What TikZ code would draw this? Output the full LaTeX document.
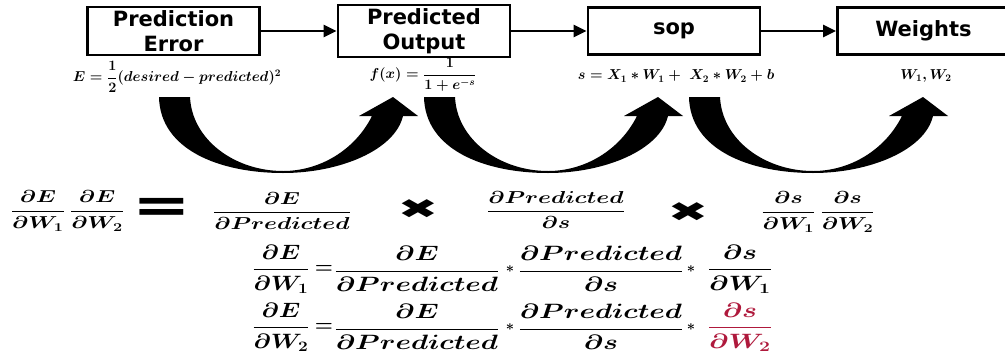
\documentclass[tikz,border=0pt]{standalone}
\usepackage{amsmath}
\usepackage{graphicx}
\usepackage{fontspec}
\usepackage{tikz}
\usetikzlibrary{arrows.meta, positioning}
\newfontfamily\boxfont{DejaVu Sans}
\definecolor{myred}{RGB}{175,25,60}
\newcommand{\sx}[1]{\scalebox{1.35}[1]{#1}}
\tikzstyle{blk} = [rectangle, draw=black, line width=2.8pt, minimum width=172pt, minimum height=47pt, align=center, font=\boxfont\bfseries\fontsize{21}{25}\selectfont]
\tikzstyle{arrow} = [line width=2.8pt, -{Triangle[length=13pt,width=12pt]}]

\begin{document}
\begin{tikzpicture}[x=1pt, y=-1pt,
    topeq/.style={font=\fontsize{14}{16}\selectfont\boldmath},
    mideq/.style={font=\fontsize{17}{20}\selectfont\boldmath},
    boteq/.style={font=\fontsize{21.5}{25}\selectfont\boldmath},
    star/.style={font=\fontsize{15}{15}\selectfont\boldmath},
    times/.style={font=\boxfont\fontsize{27}{27}\selectfont}]
    \useasboundingbox (0,0) rectangle (1005,354);
    % boxes on top
    \node[blk] (err) at (173.5,31) {Prediction\\Error};
    \node[blk] (out) at (424,31)   {Predicted\\Output};
    \node[blk] (sop) at (674,31)   {sop};
    \node[blk] (wts) at (923.5,31) {Weights};
    \draw[arrow] (err) -- (out);
    \draw[arrow] (out) -- (sop);
    \draw[arrow] (sop) -- (wts);
    % formulas under the boxes
    \node[topeq] (errf) at (177,77) {$E=\dfrac{1}{2}(desired-predicted)^2$};
    \node[topeq] (outf) at (423,75) {$f(x)=\dfrac{1}{1+e^{-s}}$};
    \node[topeq] (sopf) at (676,76) {$s=X_1*W_1+\;X_2*W_2+b$};
    \node[topeq] (wtsf) at (926,76) {$W_1,W_2$};
    % big curved arrows
    \foreach \dx in {0,265,530} {
        \fill[shift={(\dx,0)}] (159,97) .. controls (160,150) and (220,173) .. (283,173)
            .. controls (340,173) and (395,150) .. (403,116)
            -- (418,116) -- (393,97) -- (359,116) -- (372,116)
            .. controls (355,150) and (320,171) .. (283,171)
            .. controls (235,171) and (192,140) .. (190,97) -- cycle;
    }
    % chain rule
    \node[mideq] (gw) at (67.5,211) {\sx{$\dfrac{\partial E}{\partial W_1}\,\dfrac{\partial E}{\partial W_2}$}};
    \node[font=\boxfont\bfseries\fontsize{50}{50}\selectfont] (eq) at (161.5,210.5) {\scalebox{1.4}[1]{=}};
    \node[mideq] (gp) at (282,211) {\sx{$\dfrac{\partial E}{\partial Predicted}$}};
    \node[times] (x1) at (418,209) {\scalebox{1.8}[1]{✖}};
    \node[mideq] (ps) at (556,210) {\sx{$\dfrac{\partial Predicted}{\partial s}$}};
    \node[times] (x2) at (688,212) {\scalebox{1.8}[1]{✖}};
    \node[mideq] (sw) at (818,212) {\sx{$\dfrac{\partial s}{\partial W_1}\,\dfrac{\partial s}{\partial W_2}$}};
    \foreach \k/\y/\c in {1/269/black, 2/327/myred} {
        \node[boteq] (l\k) at (281,\y) {\scalebox{1.2}[1]{$\dfrac{\partial E}{\partial W_\k}$}};
        \node[boteq] (e\k) at (324,\y) {$=$};
        \node[boteq] (a\k) at (417,\y) {\sx{$\dfrac{\partial E}{\partial Predicted}$}};
        \node[star]  (s\k) at (510,\y) {$*$};
        \node[boteq] (b\k) at (601,\y) {\sx{$\dfrac{\partial Predicted}{\partial s}$}};
        \node[star]  (t\k) at (691,\y) {$*$};
        \node[boteq, text=\c] (r\k) at (740,\y) {\sx{$\dfrac{\partial s}{\partial W_\k}$}};
    }
\end{tikzpicture}
\end{document}
